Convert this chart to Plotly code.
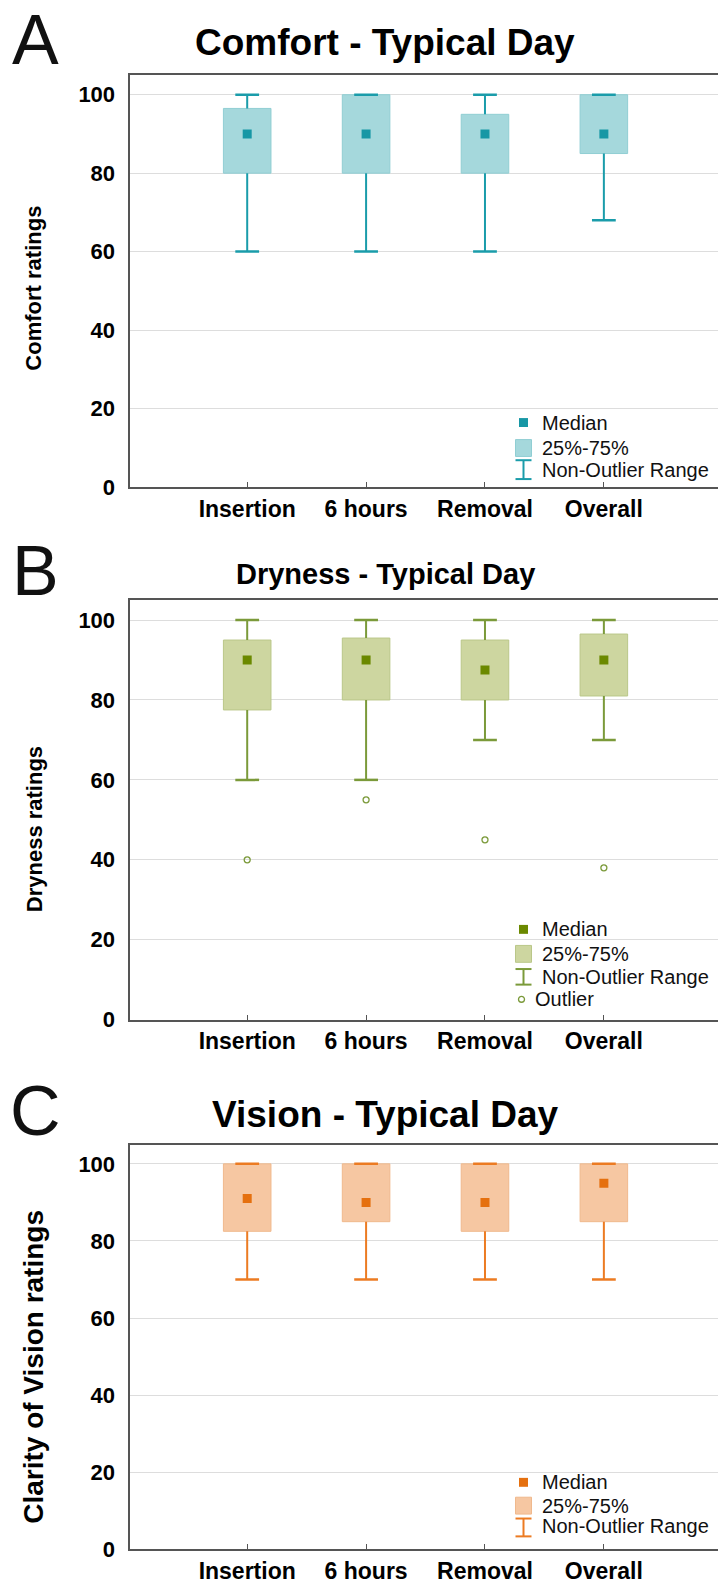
import plotly.graph_objects as go
import numpy as np

categories = ["Insertion", "6 hours", "Removal", "Overall"]
y_ticks = [0, 20, 40, 60, 80, 100]

comfort_median = [90, 90, 90, 90]
comfort_q1 = [80, 80, 80, 85]
comfort_q3 = [96.5, 100, 95, 100]
comfort_low = [60, 60, 60, 68]
comfort_high = [100, 100, 100, 100]

dryness_median = [90, 90, 87.5, 90]
dryness_q1 = [77.5, 80, 80, 81]
dryness_q3 = [95, 95.5, 95, 96.5]
dryness_low = [60, 60, 70, 70]
dryness_high = [100, 100, 100, 100]
dryness_outlier = [40, 55, 45, 38]

vision_median = [91, 90, 90, 95]
vision_q1 = [82.5, 85, 82.5, 85]
vision_q3 = [100, 100, 100, 100]
vision_low = [70, 70, 70, 70]
vision_high = [100, 100, 100, 100]

W, H = 718, 1596
BOLD = "Liberation Sans, Arial, sans-serif"

panels = [
    dict(letter="A", title="Comfort - Typical Day", title_size=37, ytitle="Comfort ratings", ytitle_size=22,
         med=comfort_median, q1=comfort_q1, q3=comfort_q3, low=comfort_low, high=comfort_high, out=None,
         mcol="#1797a5", wcol="#1a9caa", fill="#a5d8dc", edge="#90ced3",
         dom=(75.7, 491), title_y=43, letter_y=40, ytitle_y=291,
         leg_y=[426, 451.7, 474], ibeam=(464, 483)),
    dict(letter="B", title="Dryness - Typical Day", title_size=29, ytitle="Dryness ratings", ytitle_size=22,
         med=dryness_median, q1=dryness_q1, q3=dryness_q3, low=dryness_low, high=dryness_high, out=dryness_outlier,
         mcol="#6b8900", wcol="#7b9a3a", fill="#cdd6a0", edge="#bac789",
         dom=(605, 1028), title_y=579, letter_y=576, ytitle_y=836,
         leg_y=[937, 961.7, 985, 1007.5], ibeam=(977, 992.7)),
    dict(letter="C", title="Vision - Typical Day", title_size=37, ytitle="Clarity of Vision ratings", ytitle_size=28,
         med=vision_median, q1=vision_q1, q3=vision_q3, low=vision_low, high=vision_high, out=None,
         mcol="#e5700f", wcol="#ec7b22", fill="#f6c7a2", edge="#f0b98d",
         dom=(1154, 1562), title_y=1124, letter_y=1120, ytitle_y=1378,
         leg_y=[1494.5, 1518, 1539], ibeam=(1531, 1549)),
]

def px(x):
    return x / W

def py(y):
    return 1 - y / H

fig = go.Figure()
annotations = []
shapes = []
xpos = np.arange(len(categories))
box_w = 0.40
cap_w = 0.10

layout_axes = {}
for k, p in enumerate(panels):
    n = "" if k == 0 else str(k + 1)
    xa, ya = "x" + n, "y" + n
    q1 = np.array(p["q1"], float); q3 = np.array(p["q3"], float)
    low = np.array(p["low"], float); high = np.array(p["high"], float)
    # whiskers (box to whisker ends)
    wx, wy = [], []
    for i in range(len(categories)):
        wx += [xpos[i], xpos[i], None, xpos[i], xpos[i], None]
        wy += [low[i], q1[i], None, q3[i], high[i], None]
    fig.add_trace(go.Scatter(x=wx, y=wy, mode="lines", line=dict(color=p["wcol"], width=2),
                             xaxis=xa, yaxis=ya, showlegend=False, hoverinfo="skip"))
    # boxes (25%-75%)
    fig.add_trace(go.Bar(x=xpos, base=q1, y=q3 - q1, width=box_w,
                         marker=dict(color=p["fill"], line=dict(color=p["edge"], width=1)),
                         xaxis=xa, yaxis=ya, showlegend=False, hoverinfo="skip"))
    # whisker caps
    cx, cy = [], []
    for i in range(len(categories)):
        for v in (low[i], high[i]):
            cx += [xpos[i] - cap_w, xpos[i] + cap_w, None]
            cy += [v, v, None]
    fig.add_trace(go.Scatter(x=cx, y=cy, mode="lines", line=dict(color=p["wcol"], width=2.5),
                             xaxis=xa, yaxis=ya, showlegend=False, hoverinfo="skip"))
    # medians
    fig.add_trace(go.Scatter(x=xpos, y=p["med"], mode="markers",
                             marker=dict(symbol="square", size=9, color=p["mcol"]),
                             xaxis=xa, yaxis=ya, showlegend=False, hoverinfo="skip"))
    if p["out"] is not None:
        fig.add_trace(go.Scatter(x=xpos, y=p["out"], mode="markers",
                                 marker=dict(symbol="circle-open", size=6, color=p["wcol"], line=dict(width=1.3)),
                                 xaxis=xa, yaxis=ya, showlegend=False, hoverinfo="skip"))

    top, bot = p["dom"]
    layout_axes["xaxis" + n] = dict(domain=[129.5 / W, 1.0], anchor=ya, range=[-0.99, 3.96],
                                    tickvals=list(xpos), ticktext=categories,
                                    tickfont=dict(family=BOLD, size=23, color="#000", weight="bold"),
                                    showline=True, linecolor="#555", linewidth=2, mirror=True,
                                    ticks="inside", ticklen=5, tickcolor="#555", showgrid=False, zeroline=False,
                                    fixedrange=True)
    layout_axes["yaxis" + n] = dict(domain=[py(bot), py(top)], anchor=xa, range=[0, 105],
                                    tickvals=y_ticks, tickfont=dict(family=BOLD, size=22, color="#000", weight="bold"),
                                    showline=True, linecolor="#555", linewidth=2, ticks="", showgrid=True,
                                    gridcolor="#dddddd", gridwidth=1, zeroline=False, fixedrange=True,
                                    ticklabelstandoff=8)

    # panel letter, title, y title
    annotations.append(dict(text=p["letter"], x=px(35), y=py(p["letter_y"]), xref="paper", yref="paper",
                            showarrow=False, xanchor="center", yanchor="middle",
                            font=dict(family="Liberation Sans, Arial", size=70, color="#111")))
    annotations.append(dict(text="<b>%s</b>" % p["title"], x=px(385), y=py(p["title_y"]), xref="paper", yref="paper",
                            showarrow=False, xanchor="center", yanchor="middle",
                            font=dict(family=BOLD, size=p["title_size"], color="#000")))
    annotations.append(dict(text="<b>%s</b>" % p["ytitle"], x=px(34), y=py(p["ytitle_y"]), xref="paper", yref="paper",
                            showarrow=False, xanchor="center", yanchor="middle", textangle=-90,
                            font=dict(family=BOLD, size=p["ytitle_size"], color="#000")))

    # legend (drawn manually)
    lx = 523.5
    ly = p["leg_y"]
    tx = 540
    shapes.append(dict(type="rect", xref="paper", yref="paper", x0=px(lx - 4.5), x1=px(lx + 4.5),
                       y0=py(ly[0] + 4.5), y1=py(ly[0] - 4.5), fillcolor=p["mcol"], line=dict(width=0)))
    shapes.append(dict(type="rect", xref="paper", yref="paper", x0=px(lx - 8), x1=px(lx + 8),
                       y0=py(ly[1] + 8.5), y1=py(ly[1] - 8.5), fillcolor=p["fill"], line=dict(color=p["edge"], width=1)))
    it, ib = p["ibeam"]
    shapes.append(dict(type="line", xref="paper", yref="paper", x0=px(lx), x1=px(lx), y0=py(it), y1=py(ib),
                       line=dict(color=p["wcol"], width=2)))
    for yy in (it, ib):
        shapes.append(dict(type="line", xref="paper", yref="paper", x0=px(lx - 8), x1=px(lx + 8), y0=py(yy), y1=py(yy),
                           line=dict(color=p["wcol"], width=2)))
    labels = ["Median", "25%-75%", "Non-Outlier Range"]
    for t, yy in zip(labels, ly[:3]):
        annotations.append(dict(text=t, x=px(tx), y=py(yy), xref="paper", yref="paper", showarrow=False,
                                xanchor="left", yanchor="middle",
                                font=dict(family="Liberation Sans, Arial", size=20, color="#111")))
    if p["out"] is not None:
        shapes.append(dict(type="circle", xref="paper", yref="paper", x0=px(lx - 5), x1=px(lx + 1),
                           y0=py(ly[3] + 3), y1=py(ly[3] - 3), line=dict(color=p["wcol"], width=1.3)))
        annotations.append(dict(text="Outlier", x=px(533), y=py(ly[3]), xref="paper", yref="paper", showarrow=False,
                                xanchor="left", yanchor="middle",
                                font=dict(family="Liberation Sans, Arial", size=20, color="#111")))

fig.update_layout(width=W, height=H, margin=dict(l=0, r=0, t=0, b=0), paper_bgcolor="white",
                  plot_bgcolor="white", showlegend=False, barmode="overlay",
                  annotations=annotations, shapes=shapes, **layout_axes)

fig.write_html("out.html", config={"displayModeBar": False, "staticPlot": True},
               post_script="document.body.style.margin='0';document.body.style.padding='0';"
                           "document.documentElement.style.overflow='hidden';document.body.style.overflow='hidden';")
